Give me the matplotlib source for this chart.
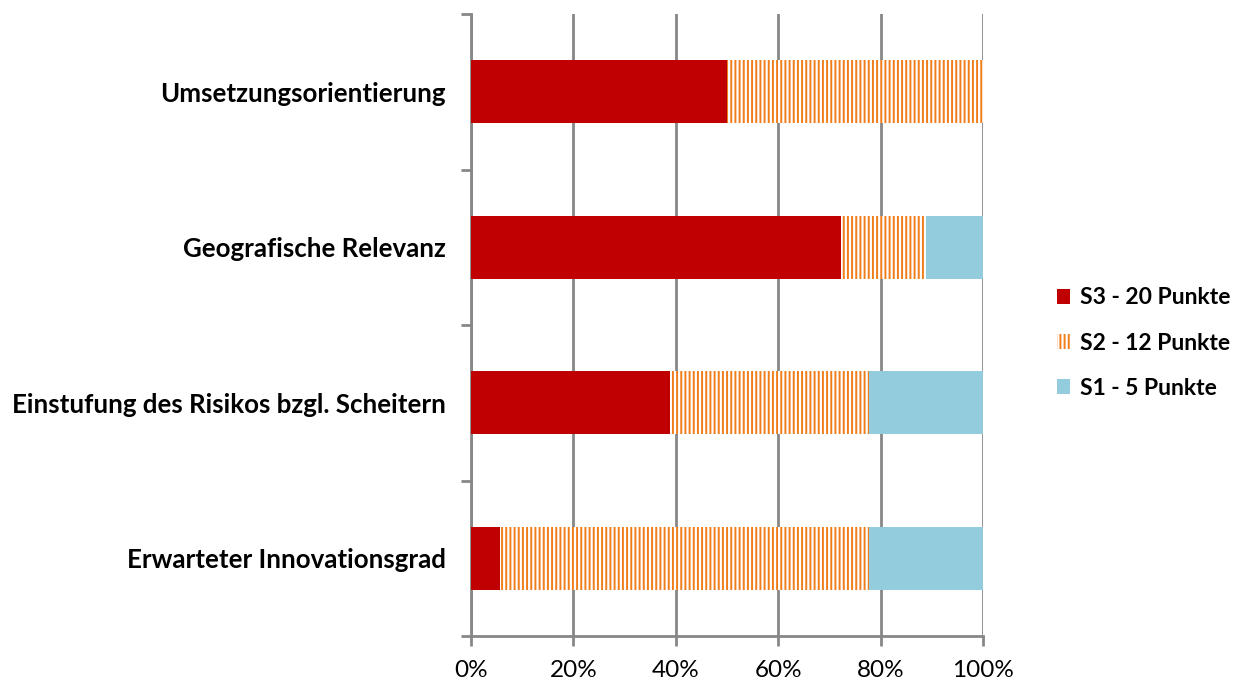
import matplotlib
matplotlib.use("Agg")
import matplotlib.pyplot as plt
from matplotlib.ticker import FixedLocator, PercentFormatter
from matplotlib.patches import Patch

categories = ["Erwarteter Innovationsgrad",
              "Einstufung des Risikos bzgl. Scheitern",
              "Geografische Relevanz",
              "Umsetzungsorientierung"]
s3 = [5.6, 38.9, 72.2, 50.0]
s2 = [72.2, 38.9, 16.7, 50.0]
s1 = [22.2, 22.2, 11.1, 0.0]
series_labels = ["S3 - 20 Punkte", "S2 - 12 Punkte", "S1 - 5 Punkte"]
xticks = [0, 20, 40, 60, 80, 100]

plt.rcParams['font.family'] = ['Lato', 'DejaVu Sans']
plt.rcParams['hatch.linewidth'] = 1.4

fig = plt.figure(figsize=(12.44, 6.83), dpi=100)
ax = fig.add_axes([471/1244, 1-636/683, (983-471)/1244, (636-14)/683])

c3, c2, c1 = "#C00000", "#F07D1A", "#93CDDD"
y = list(range(len(categories)))
h = 0.405
ax.barh(y, s3, height=h, color=c3, edgecolor="none", zorder=3)
left2 = s3
ax.barh(y, s2, left=left2, height=h, facecolor="white", edgecolor=c2,
        hatch="||||", linewidth=0, zorder=3)
left1 = [a + b for a, b in zip(s3, s2)]
ax.barh(y, s1, left=left1, height=h, color=c1, edgecolor="none", zorder=3)

ax.set_xlim(0, 100)
ax.set_ylim(-0.5, len(categories) - 0.5)
ax.xaxis.set_major_locator(FixedLocator(xticks))
ax.xaxis.set_major_formatter(PercentFormatter(decimals=0))
ax.grid(axis="x", color="#878787", linewidth=2, zorder=0)

ax.set_yticks([i - 0.5 for i in range(len(categories) + 1)], minor=False)
ax.set_yticklabels([])
ax.set_yticks(y, minor=True)
ax.set_yticklabels(categories, minor=True, fontsize=18.6, fontweight="bold")
ax.tick_params(axis="y", which="major", length=7, width=2, color="#878787")
ax.tick_params(axis="y", which="minor", length=0, pad=18)
ax.tick_params(axis="x", length=7, width=2, color="#878787", labelsize=17.5, pad=10)

for s in ["top", "right"]:
    ax.spines[s].set_visible(False)
for s in ["left", "bottom"]:
    ax.spines[s].set_color("#878787")
    ax.spines[s].set_linewidth(2)

handles = [Patch(facecolor=c3, edgecolor="none"),
           Patch(facecolor="white", edgecolor=c2, hatch="||||", linewidth=0),
           Patch(facecolor=c1, edgecolor="none")]
leg = fig.legend(handles, series_labels, loc="center left",
                 bbox_to_anchor=(1036/1244, 1-343/683), frameon=False,
                 prop={"size": 16.5, "weight": "bold"}, handlelength=0.6,
                 handleheight=0.6, handletextpad=0.4, labelspacing=1.05)

fig.savefig("out.png", dpi=100)
